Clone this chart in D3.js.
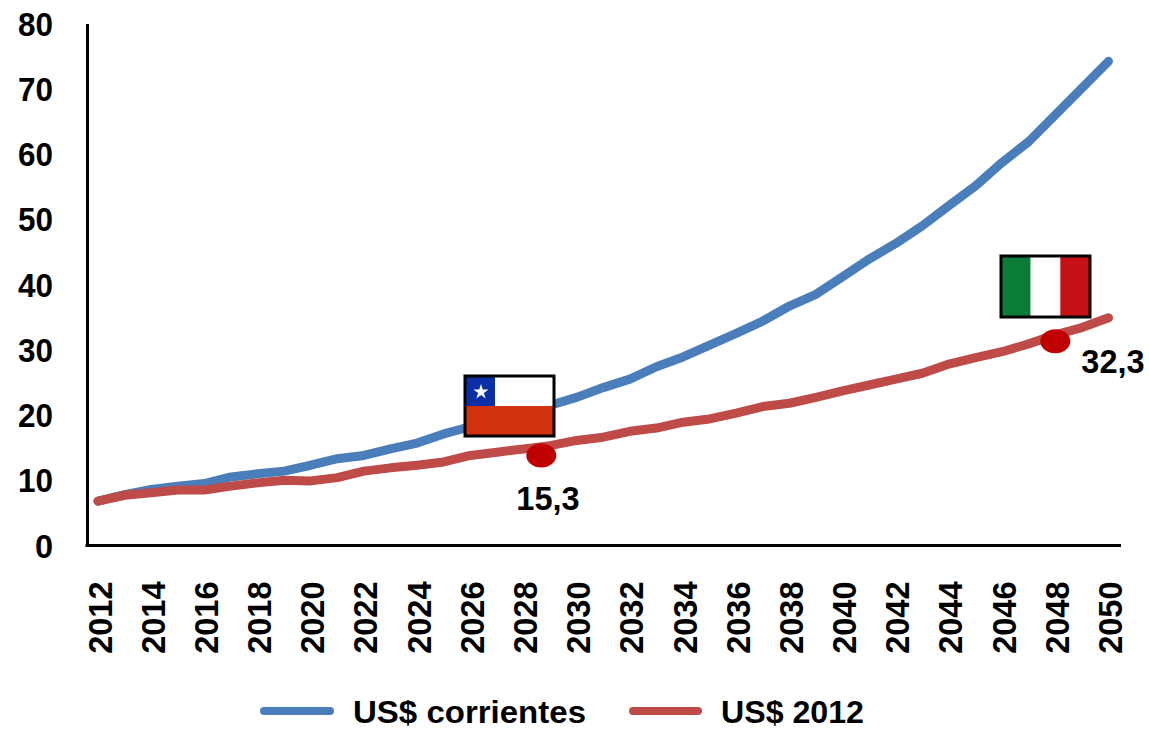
<!DOCTYPE html>
<html><head><meta charset="utf-8">
<script src="https://cdn.jsdelivr.net/npm/d3@7"></script>
<style>html,body{margin:0;padding:0;background:#fff}svg{display:block}text{font-family:"Liberation Sans",Arial,sans-serif;font-weight:bold;fill:#000}</style>
</head><body><svg id="c" width="1149" height="729"></svg>
<script>
const years = d3.range(2012, 2051);
const corrientes = [6.8,7.8,8.6,9.1,9.5,10.5,11.0,11.4,12.3,13.3,13.8,14.8,15.7,17.1,18.2,19.3,20.4,21.5,22.7,24.2,25.5,27.4,28.9,30.7,32.5,34.4,36.7,38.5,41.2,43.9,46.3,49.0,52.1,55.1,58.7,61.9,66.0,70.1,74.2];
const constantes = [6.8,7.7,8.1,8.5,8.5,9.1,9.6,10.0,9.9,10.4,11.4,11.9,12.3,12.8,13.8,14.3,14.8,15.3,16.1,16.6,17.5,18.0,18.9,19.4,20.3,21.3,21.8,22.7,23.7,24.6,25.5,26.4,27.8,28.8,29.7,30.9,32.3,33.4,34.9];
const yTicks = [0,10,20,30,40,50,60,70,80];
const seriesNames = ["US$ corrientes","US$ 2012"];
const seriesColors = ["#4a7ebb","#be4b48"];
const marks = [{label:"15,3",year:2028.67,pos:13.8},{label:"32,3",year:2048,pos:31.3}];

const svg = d3.select("#c");
const x = d3.scaleLinear().domain([2012,2050]).range([98,1108.5]);
const y = d3.scaleLinear().domain([0,80]).range([545.5,23.5]);
const FS = 32.5;

const yAxis = d3.axisLeft(y).tickValues(yTicks).tickSize(0).tickPadding(34);
const gy = svg.append("g").attr("transform","translate(87,0)").call(yAxis);
gy.select(".domain").attr("stroke","#000").attr("stroke-width",3);
gy.selectAll("text").attr("font-size",FS).attr("dy","0.36em").attr("fill","#000").attr("textLength",35).attr("lengthAdjust","spacingAndGlyphs");
gy.selectAll(".tick").filter(d=>d===0).select("text").attr("textLength",null);

const xAxis = d3.axisBottom(x).tickValues(years.filter(d=>d%2===0)).tickFormat(d3.format("d")).tickSize(0);
const gx = svg.append("g").attr("transform","translate(0,545.5)").call(xAxis);
gx.select(".domain").attr("d","M85.5,0H1121").attr("stroke","#000").attr("stroke-width",3);
gx.selectAll("text").attr("font-size",FS).attr("text-anchor","end").attr("dy",0)
  .attr("y",0).attr("x",0)
  .attr("transform","translate(13,36) rotate(-90)");

const line = d3.line().x((d,i)=>x(years[i])).y(d=>y(d));
[corrientes,constantes].forEach((s,i)=>{
  svg.append("path").attr("d",line(s)).attr("fill","none").attr("stroke",seriesColors[i])
    .attr("stroke-width",9).attr("stroke-linecap","round").attr("stroke-linejoin","round");
});

function chile(px,py){
  const w=89,h=60,g=svg.append("g").attr("transform",`translate(${px},${py})`);
  g.append("rect").attr("width",w).attr("height",h/2).attr("fill","#fff");
  g.append("rect").attr("y",h/2).attr("width",w).attr("height",h/2).attr("fill","#d43111");
  g.append("rect").attr("width",30).attr("height",h/2).attr("fill","#0b2fa6");
  g.append("path").attr("d",d3.symbol(d3.symbolStar,70)()).attr("transform","translate(16,16)").attr("fill","#fff");
  g.append("rect").attr("width",w).attr("height",h).attr("fill","none").attr("stroke","#000").attr("stroke-width",3);
}
function italy(px,py){
  const w=89,h=61,g=svg.append("g").attr("transform",`translate(${px},${py})`);
  ["#0b7d38","#fff","#c51015"].forEach((c,i)=>g.append("rect").attr("x",i*w/3).attr("width",w/3).attr("height",h).attr("fill",c));
  g.append("rect").attr("width",w).attr("height",h).attr("fill","none").attr("stroke","#000").attr("stroke-width",3);
}
chile(465,376);
italy(1001,256);

svg.selectAll("ellipse.m").data(marks).join("ellipse").attr("class","m")
  .attr("cx",d=>x(d.year)).attr("cy",d=>y(d.pos)).attr("rx",15).attr("ry",12).attr("fill","#c00000");
svg.append("text").attr("x",548).attr("y",510).attr("text-anchor","middle").attr("font-size",FS).text(marks[0].label);
svg.append("text").attr("x",1113).attr("y",373).attr("text-anchor","middle").attr("font-size",FS).text(marks[1].label);

const lg = [{x1:264,x2:330,tx:353},{x1:633,x2:698,tx:721}];
lg.forEach((l,i)=>{
  svg.append("line").attr("x1",l.x1).attr("x2",l.x2).attr("y1",711).attr("y2",711)
    .attr("stroke",seriesColors[i]).attr("stroke-width",8).attr("stroke-linecap","round");
  svg.append("text").attr("x",l.tx).attr("y",722.5).attr("font-size",31).attr("textLength",i?143:233).attr("lengthAdjust","spacingAndGlyphs").text(seriesNames[i]);
});
</script></body></html>
